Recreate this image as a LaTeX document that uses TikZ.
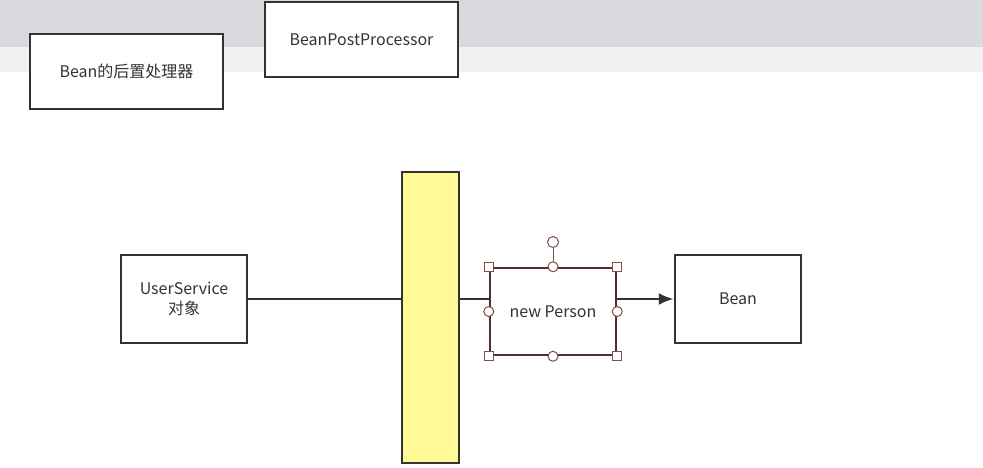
\documentclass[tikz,border=0pt]{standalone}
\usepackage{fontspec}
\setmainfont{Noto Sans CJK SC}
\usetikzlibrary{arrows.meta}
\definecolor{topbar}{RGB}{217,218,222}
\definecolor{strip}{RGB}{241,241,241}
\definecolor{boxline}{RGB}{51,51,51}
\definecolor{barfill}{RGB}{255,249,150}
\definecolor{selline}{RGB}{75,50,50}
\definecolor{handlecol}{RGB}{130,75,75}
\tikzset{box/.style={draw = boxline, line width = 2.5pt, fill = white,
    minimum width = 126pt, minimum height = 88pt, inner sep = 0pt,
    align = center, text = boxline, font = \fontsize{16}{20}\selectfont},
  conn/.style={draw = boxline, line width = 2.5pt},
  hsq/.style={draw = handlecol, fill = white, line width = 1pt,
    minimum size = 9pt, inner sep = 0pt},
  hcirc/.style={draw = handlecol, fill = white, line width = 1pt,
    circle, minimum size = 10pt, inner sep = 0pt}
}
\begin{document}
\begin{tikzpicture}[x = 1pt, y = -1pt]
    \useasboundingbox (0, 0) rectangle (983, 467);
    \fill[topbar] (0, 0) rectangle (983, 47);
    \fill[strip] (0, 47) rectangle (983, 72);
    \draw (126.5, 71.5) node[box, minimum width = 193pt, minimum height = 75pt]
    (post) {Bean的后置处理器};
    \draw (361.5, 39.5) node[box, minimum width = 193pt, minimum height = 75pt]
    (bpp) {BeanPostProcessor};
    \draw (184, 299) node[box] (user) {UserService\\对象};
    \draw (430.5, 317.5) node[box, fill = barfill, minimum width = 57pt,
    minimum height = 291pt] (bar) {};
    \draw (553, 311.5) node[box, draw = selline, minimum height = 87pt]
    (person) {new Person};
    \draw (738, 299) node[box] (bean) {Bean};
    \draw[conn] (user.east) -- (user.east -| bar.west);
    \draw[conn] (bar.east |- user.east) -- (person.west |- user.east);
    \draw[conn, -{Latex[length = 15pt, width = 12pt]}] (person.east |- bean.west)
    -- (bean.west);
    % selection handles
    \draw (553, 242) node[hcirc, minimum size = 11pt] (rot) {};
    \draw[handlecol, line width = 1pt] (person.north) -- (rot);
    \foreach \a/\n in {north west/1, north east/2, south west/3, south east/4}
      \draw (person.\a) node[hsq] (sq\n) {};
    \foreach \a/\n in {north/1, south/2, west/3, east/4}
      \draw (person.\a) node[hcirc] (ci\n) {};
  \end{tikzpicture}
\end{document}
